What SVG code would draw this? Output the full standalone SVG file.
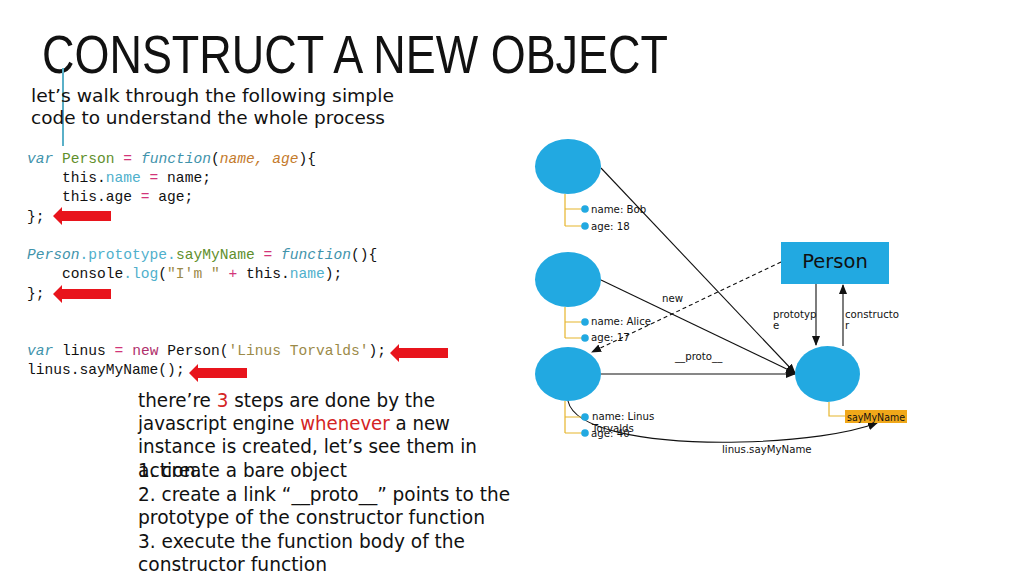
<svg xmlns="http://www.w3.org/2000/svg" width="1024" height="576" viewBox="0 0 1024 576">
<style>
.title{font-family:"Liberation Sans",Arial,sans-serif;font-size:53px;fill:#111}
.sub{font-family:"DejaVu Sans",sans-serif;font-size:17px;fill:#111}
.code{font-family:"Liberation Mono","DejaVu Sans Mono",monospace;font-size:14.6px;fill:#111}
.kw{font-style:italic;fill:#3f93ab}
.cls{fill:#5f8f2c}
.op{fill:#d2357a}
.pa{font-style:italic;fill:#c47a2b}
.pr{fill:#4fb0cc}
.st{fill:#9b8a48}
.nw{fill:#b0306c}
.body{font-family:"DejaVu Sans",sans-serif;font-size:18.7px;fill:#111}
.red{fill:#d42424}
.lbl{font-family:"DejaVu Sans",sans-serif;font-size:10.2px;fill:#111}
.node{fill:#22a9e1}
.br{fill:none;stroke:#e6b52c;stroke-width:1.2}
.dot{fill:#22a9e1}
.ln{fill:none;stroke:#111;stroke-width:1.1}
</style>
<defs>
<marker id="ah" markerUnits="userSpaceOnUse" markerWidth="10" markerHeight="10" viewBox="0 0 10 10" refX="9" refY="5" orient="auto">
<path d="M0,1 L10,5 L0,9 Z" fill="#111"/>
</marker>
<path id="redArrow" d="M0,0 L9,-9 L9,-5 L58,-5 L58,5 L9,5 L9,9 Z" fill="#e8141c"/>
</defs>
<rect width="1024" height="576" fill="#fff"/>

<g id="header">
<text class="title" x="42" y="73" textLength="626" lengthAdjust="spacingAndGlyphs">CONSTRUCT A NEW OBJECT</text>
<line x1="63" y1="68" x2="63" y2="146" stroke="#5ab0c8" stroke-width="2"/>
<text class="sub" x="31" y="102" textLength="363" lengthAdjust="spacingAndGlyphs">let’s walk through the following simple</text>
<text class="sub" x="31" y="124" textLength="354" lengthAdjust="spacingAndGlyphs">code to understand the whole process</text>
</g>

<g id="code" class="code">
<text x="27" y="163"><tspan class="kw">var</tspan> <tspan class="cls">Person</tspan> <tspan class="op">=</tspan> <tspan class="kw">function</tspan>(<tspan class="pa">name, age</tspan>){</text>
<text x="62" y="182">this.<tspan class="pr">name</tspan> <tspan class="op">=</tspan> name;</text>
<text x="62" y="201">this.age <tspan class="op">=</tspan> age;</text>
<text x="27" y="220.5">};</text>
<text x="27" y="259"><tspan class="kw">Person</tspan><tspan class="pr">.prototype.</tspan><tspan class="cls">sayMyName</tspan> <tspan class="op">=</tspan> <tspan class="kw">function</tspan>(){</text>
<text x="62" y="278">console<tspan class="pr">.log</tspan>(<tspan class="st">"I'm "</tspan> <tspan class="op">+</tspan> this.<tspan class="pr">name</tspan>);</text>
<text x="27" y="297.5">};</text>
<text x="27" y="355"><tspan class="kw">var</tspan> linus <tspan class="op">=</tspan> <tspan class="nw">new</tspan> Person(<tspan class="st">'Linus Torvalds'</tspan>);</text>
<text x="27" y="374">linus.sayMyName();</text>
</g>

<g id="code-arrows">
<use href="#redArrow" x="53" y="216"/>
<use href="#redArrow" x="53" y="294"/>
<use href="#redArrow" x="390" y="353"/>
<use href="#redArrow" x="189" y="373"/>
</g>

<g id="steps" class="body">
<text x="138" y="407" textLength="297" lengthAdjust="spacingAndGlyphs">there’re <tspan class="red">3</tspan> steps are done by the</text>
<text x="138" y="430" textLength="312" lengthAdjust="spacingAndGlyphs">javascript engine <tspan class="red">whenever</tspan> a new</text>
<text x="138" y="453" textLength="339" lengthAdjust="spacingAndGlyphs">instance is created, let’s see them in</text>
<text x="138" y="477">action.</text>
<text x="138" y="477" textLength="209" lengthAdjust="spacingAndGlyphs">1. create a bare object</text>
<text x="138" y="501" textLength="372" lengthAdjust="spacingAndGlyphs">2. create a link “__proto__” points to the</text>
<text x="138" y="524" textLength="347" lengthAdjust="spacingAndGlyphs">prototype of the constructor function</text>
<text x="138" y="548" textLength="327" lengthAdjust="spacingAndGlyphs">3. execute the function body of the</text>
<text x="138" y="571" textLength="189" lengthAdjust="spacingAndGlyphs">constructor function</text>
</g>

<g id="connectors">
<line class="ln" x1="601" y1="168" x2="795" y2="373" marker-end="url(#ah)"/>
<line class="ln" x1="601" y1="280" x2="795" y2="373" marker-end="url(#ah)"/>
<line class="ln" x1="601" y1="374" x2="795" y2="374" marker-end="url(#ah)"/>
<line class="ln" x1="781" y1="262" x2="592" y2="352" stroke-dasharray="4,3" marker-end="url(#ah)"/>
<line class="ln" x1="816" y1="284" x2="816" y2="345" marker-end="url(#ah)"/>
<line class="ln" x1="843" y1="346" x2="843" y2="285" marker-end="url(#ah)"/>
<path class="ln" d="M568,401 C574,428 640,444 740,442 C800,441 850,433 877,423" marker-end="url(#ah)"/>
<text class="lbl" x="662" y="302">new</text>
<text class="lbl" x="675" y="360">__proto__</text>
<text class="lbl" x="773" y="318">prototyp</text>
<text class="lbl" x="773" y="329">e</text>
<text class="lbl" x="845" y="318">constructo</text>
<text class="lbl" x="845" y="329">r</text>
<text class="lbl" x="722" y="453">linus.sayMyName</text>
</g>

<g id="bob">
<ellipse class="node" cx="568" cy="166.5" rx="33" ry="27.5"/>
<path class="br" d="M565,194 V226 M565,209 H585 M565,226 H585"/>
<circle class="dot" cx="585" cy="209" r="3.8"/>
<circle class="dot" cx="585" cy="226" r="3.8"/>
<text class="lbl" x="591" y="212.5">name: Bob</text>
<text class="lbl" x="591" y="229.5">age: 18</text>
</g>

<g id="alice">
<ellipse class="node" cx="568" cy="279.5" rx="33" ry="27.5"/>
<path class="br" d="M565,307 V338 M565,322 H585 M565,338 H585"/>
<circle class="dot" cx="585" cy="322" r="3.8"/>
<circle class="dot" cx="585" cy="338" r="3.8"/>
<text class="lbl" x="591" y="325">name: Alice</text>
<text class="lbl" x="591" y="341">age: 17</text>
</g>

<g id="linus">
<ellipse class="node" cx="568" cy="374" rx="33" ry="27"/>
<path class="br" d="M565,401 V433 M565,417 H585 M565,433 H585"/>
<circle class="dot" cx="585" cy="417" r="3.8"/>
<circle class="dot" cx="585" cy="433" r="3.8"/>
<text class="lbl" x="592" y="420">name: Linus</text>
<text class="lbl" x="592" y="431.5">Torvalds</text>
<text class="lbl" x="591" y="437">age: 40</text>
</g>

<g id="person">
<rect x="781" y="242" width="108" height="42" fill="#22a9e1"/>
<text x="835" y="268" text-anchor="middle" font-family="DejaVu Sans, sans-serif" font-size="19.5" fill="#111">Person</text>
</g>

<g id="person-prototype">
<ellipse class="node" cx="827.5" cy="374" rx="32.5" ry="28"/>
<path class="br" d="M829,402 V416 H846"/>
<rect x="845" y="410" width="62" height="13" fill="#f0a81a"/>
<text class="lbl" x="847" y="420.5" textLength="58" lengthAdjust="spacingAndGlyphs">sayMyName</text>
</g>
</svg>
